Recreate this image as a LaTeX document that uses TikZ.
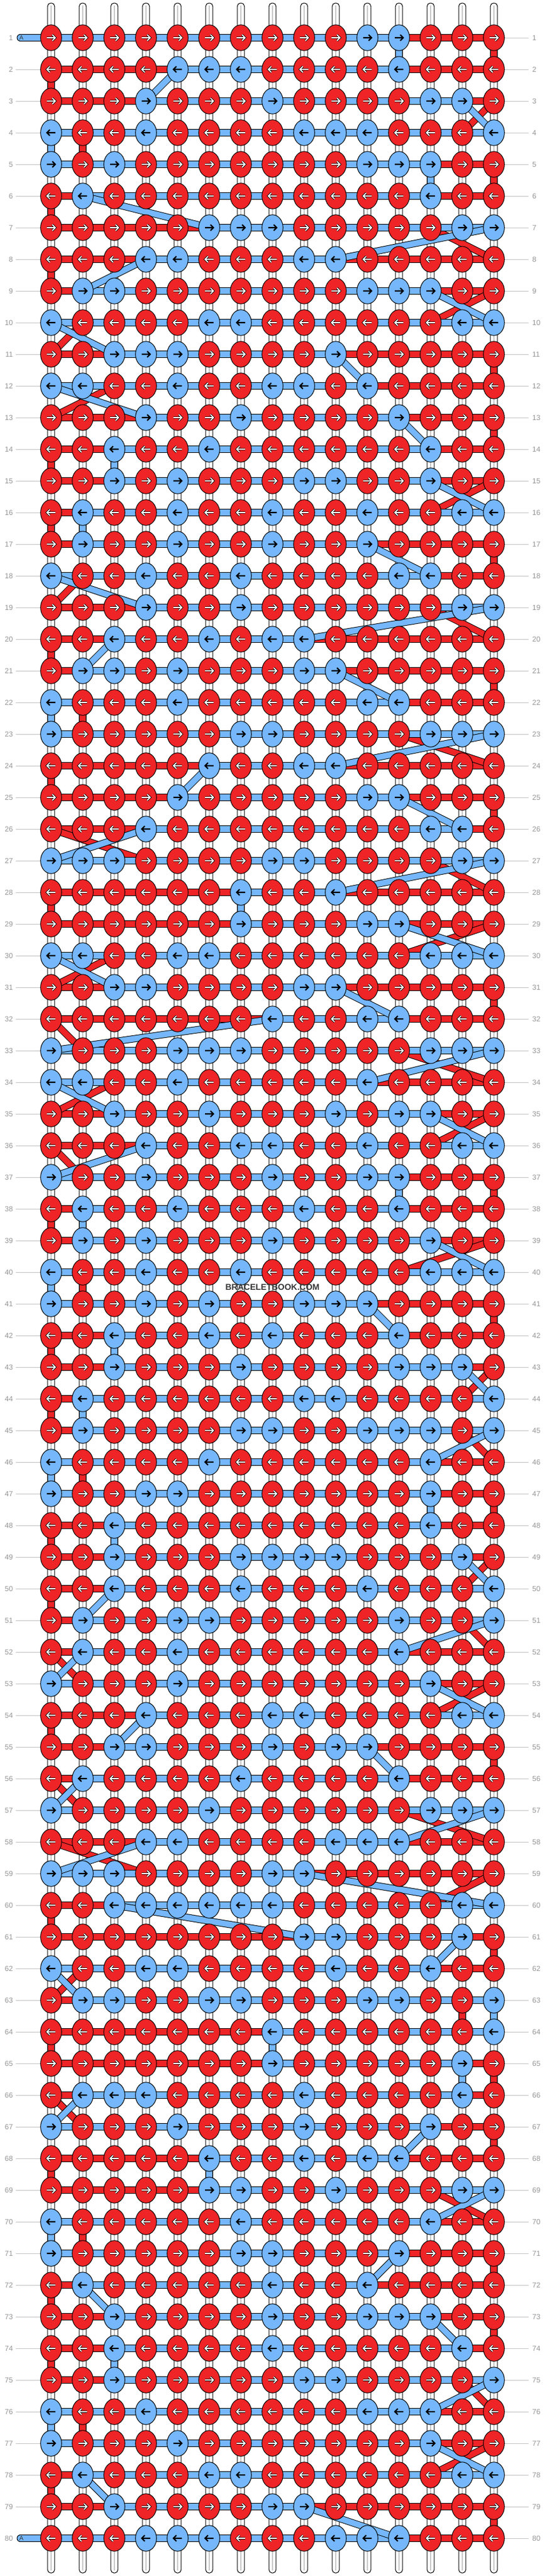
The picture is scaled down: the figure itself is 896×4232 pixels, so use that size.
\documentclass[tikz,border=0pt]{standalone}
\usepackage{fontspec}
\setmainfont{Liberation Sans}
\usetikzlibrary{shapes.geometric}
\definecolor{kred}{RGB}{238,36,38}
\definecolor{kblue}{RGB}{117,183,250}
\definecolor{numgray}{RGB}{150,150,150}
\definecolor{guidegray}{RGB}{195,195,195}
\definecolor{warpgray}{RGB}{200,200,200}
\definecolor{wmgray}{RGB}{55,55,55}
\newcount\colc
\def\scanrow#1{%
  \ifx#1\relax\else
    \global\advance\colc by 1
    \expandafter\xdef\csname kc-\currow-\the\colc\endcsname{#1}%
    \if#1B%
      \ifnum\tmpminb=99 \xdef\tmpminb{\the\colc}\fi
      \xdef\tmpmaxb{\the\colc}%
    \else
      \ifnum\tmpminr=99 \xdef\tmpminr{\the\colc}\fi
      \xdef\tmpmaxr{\the\colc}%
    \fi
    \expandafter\scanrow
  \fi}
\tikzset{
  bandout/.style={line width=11.6pt, draw=black},
  bandin/.style={line width=9.6pt},
  knotbox/.style={ellipse, draw=black, line width=1pt, minimum width=34.6pt, minimum height=42.4pt, inner sep=0pt},
  warp/.style={draw=black, fill=white, line width=1pt, rounded corners=5.3pt},
  warpline/.style={draw=warpgray, line width=1.2pt},
  guide/.style={draw=guidegray, line width=1pt},
  numlbl/.style={inner sep=0pt, text=numgray, font=\fontsize{12}{12}\selectfont},
  arrout/.style={draw=black, line width=3.4pt, miter limit=4},
  arrwhite/.style={draw=white, line width=1.8pt, miter limit=4},
  arrblack/.style={draw=black, line width=2.1pt, miter limit=4},
}
\newcommand\bandln[3]{\draw[bandout] (#2) -- (#3); \draw[bandin, draw=#1] (#2) -- (#3);}
\newcommand\arrowR[2]{\draw[#2] (#1) ++(-7,0) -- ++(13.6,0) (#1) ++(2,-4.9) -- ++(4.9,4.9) -- ++(-4.9,4.9);}
\newcommand\arrowL[2]{\draw[#2] (#1) ++(7,0) -- ++(-13.6,0) (#1) ++(-2,-4.9) -- ++(-4.9,4.9) -- ++(4.9,4.9);}
\begin{document}
\begin{tikzpicture}[x=1pt,y=-1pt]
\useasboundingbox (0,0) rectangle (896,4232);
\fill[white] (0,0) rectangle (896,4232);
\foreach \r/\s in {
1/RRRRRRRRRRBBRRR,
2/RRRRBBBRRRRBRRR,
3/RRRBRRRBRRRRBBR,
4/BRRBRRRRBBBRRRB,
5/BRBRRRRRRRBBBRR,
6/RBRRRRRRRRRRBRR,
7/RRRRRBBBRRRRRBB,
8/RRRBBRRRBBRRRRR,
9/RBBRRRRRRRBBBRR,
10/BRRRRBBRRRRRRBB,
11/RRBBBRRRRBRRRRR,
12/BBRRBRRBBRBRRRR,
13/RRRBRRBRRRRBRRR,
14/RRBRRBRRRRRRBRR,
15/RRBRBRRRBBRRBRR,
16/RBRRBRRBRRBRRBB,
17/RBRRBRRBRRBRRRR,
18/BRRBRRBRRRRBBRR,
19/RRRBRRBRRRRRRBB,
20/RRBRRBRBBRRRRRR,
21/RBBRBRRRBBRRRRR,
22/BRRRBRRRRRBBRRR,
23/BRRRRRBBRRRRBBB,
24/RRRRRBRRBBRRRRR,
25/RRRRBRRRRRBBRRR,
26/RRRBRRRRRRRRBBR,
27/BBBRRRRBBRRRRBB,
28/RRRRRRBRRBRRRRR,
29/RRRRRRBRRRBBRRR,
30/BBRRBBRRRRRRBBB,
31/RRBBRRRRBBRRRRR,
32/RRRRRRRBRRBBRRR,
33/BRRRBBBRRRRRBBB,
34/BBRRBRRRRRBRRRR,
35/RRBRRBRRRBRBBRR,
36/RRRBRRBBRRBRRBB,
37/BRRBRRRBRRBBRRR,
38/RBRRBRRRBRRBRRR,
39/RBRBRRRBRRRRBRR,
40/BRRBRRBRRRRRBBB,
41/BRRBRBRRBBBRRRR,
42/RRBRRBRBRRRBRRR,
43/RRBRRRBRRRRBBBR,
44/RBRRRRRRBBRRRRB,
45/RBRRRRBBRRBBBRB,
46/BRRRRBRRRRRRBRR,
47/BRRBBRRRRRRRBRR,
48/RRBRRRRRRRRRBRR,
49/RRBRRRBBBBRRRBR,
50/RRBRRRBRRRBRRRB,
51/RBRRBBRRRRRBRRB,
52/RBRRBRRRRRRBRRR,
53/BRRRBRRRRRRRBRR,
54/RRRBRRRBBRRRRBB,
55/RRBBRRRBRBBRRRR,
56/RBRRRRBRRRRBRRR,
57/BRRRRBRRRRRRBBB,
58/RRRBBRRRRBBBRRR,
59/BBBRRRRBBRRRRRR,
60/RRBBBBBBRRRRRBB,
61/RRRRRRRRBBRRRBR,
62/BRRBBRRRRBRRBRR,
63/RBBRRBBRRRBBRRB,
64/RRRRRRRBRRRRRRB,
65/RRRRRRRBRRRRRBR,
66/RBBBRRRRBRRRRBR,
67/BRRRBRRRBRRRBRR,
68/RRRRRBRRBRBBRRR,
69/RRRRRBBRRBRRRBB,
70/BRRRRRBRRRRRBRR,
71/BRRRRRBBRRRBRRR,
72/RBRRRRRBRRBRRRR,
73/RRBRRRRBRRBBBRR,
74/RRBRRRRBRRRRRBR,
75/RRBRRRRRBBRRRRB,
76/BRRBRRRRRRBBBRR,
77/BRRRBRRRRRRRBRR,
78/RBRRRBBRRRRRRBB,
79/RRBRRRRBBRRRRRR,
80/RRRBBBRRRBBBRRR}{%
  \xdef\currow{\r}\global\colc=0
  \xdef\tmpminb{99}\xdef\tmpmaxb{0}\xdef\tmpminr{99}\xdef\tmpmaxr{0}%
  \expandafter\scanrow\s\relax
  \expandafter\xdef\csname mnb-\r\endcsname{\tmpminb}%
  \expandafter\xdef\csname mxb-\r\endcsname{\tmpmaxb}%
  \expandafter\xdef\csname mnr-\r\endcsname{\tmpminr}%
  \expandafter\xdef\csname mxr-\r\endcsname{\tmpmaxr}%
}
\expandafter\xdef\csname mnb-1\endcsname{1}
\expandafter\xdef\csname mnb-80\endcsname{1}
% positions
\foreach \r in {1,...,80}{\foreach \c in {1,...,15}{\coordinate (p-\r-\c) at ({32+52*\c},{10+52*\r});}}
% warp strings
\foreach \c in {1,...,15}{
  \draw[warp] ({26.2+52*\c},5) rectangle ({37.8+52*\c},4227);
  \draw[warpline] ({32+52*\c},9) -- ({32+52*\c},4223);
}
% row numbers and guide lines
\foreach \r in {1,...,80}{
  \node[numlbl, anchor=east] (ln-\r) at (21.5,{10+52*\r}) {\r};
  \node[numlbl, anchor=west] (rn-\r) at (875,{10+52*\r}) {\r};
  \coordinate (rg-\r) at (869,{10+52*\r});
  \draw[guide] (p-\r-15) -- (rg-\r);
  \ifnum\r>1 \ifnum\r<80
    \coordinate (lg-\r) at (26,{10+52*\r});
    \draw[guide] (lg-\r) -- (p-\r-1);
  \fi\fi
}
% red string
\foreach \r in {1,...,80}{
  \edef\spA{\csname mnr-\r\endcsname}\edef\spB{\csname mxr-\r\endcsname}%
  \ifnum\spA<\spB\relax \bandln{kred}{p-\r-\spA}{p-\r-\spB}\fi
}
\foreach \r in {1,...,79}{
  \pgfmathtruncatemacro\rn{\r+1}%
  \ifodd\r\relax
    \edef\spA{\csname mxr-\r\endcsname}\edef\spB{\csname mxr-\rn\endcsname}%
  \else
    \edef\spA{\csname mnr-\r\endcsname}\edef\spB{\csname mnr-\rn\endcsname}%
  \fi
  \bandln{kred}{p-\r-\spA}{p-\rn-\spB}
}
% blue string
\coordinate (a-in) at (33.3,62);
\coordinate (a-out) at (33.3,4170);
\draw[bandout, line cap=round] (a-in) -- (p-1-1);
\draw[bandin, draw=kblue, line cap=round] (a-in) -- (p-1-1);
\draw[bandout, line cap=round] (a-out) -- (p-80-1);
\draw[bandin, draw=kblue, line cap=round] (a-out) -- (p-80-1);
\foreach \r in {1,...,80}{
  \edef\spA{\csname mnb-\r\endcsname}\edef\spB{\csname mxb-\r\endcsname}%
  \ifnum\spA<\spB\relax \bandln{kblue}{p-\r-\spA}{p-\r-\spB}\fi
}
\foreach \r in {1,...,79}{
  \pgfmathtruncatemacro\rn{\r+1}%
  \ifodd\r\relax
    \edef\spA{\csname mxb-\r\endcsname}\edef\spB{\csname mxb-\rn\endcsname}%
  \else
    \edef\spA{\csname mnb-\r\endcsname}\edef\spB{\csname mnb-\rn\endcsname}%
  \fi
  \bandln{kblue}{p-\r-\spA}{p-\rn-\spB}
}
\node[inner sep=0pt, font=\fontsize{10}{10}\selectfont, text=black!80] (alab-1) at (35.2,62.5) {A};
\node[inner sep=0pt, font=\fontsize{10}{10}\selectfont, text=black!80] (alab-80) at (35.2,4170.5) {A};
% knots
\foreach \r in {1,...,80}{
  \foreach \c in {1,...,15}{
    \edef\kc{\csname kc-\r-\c\endcsname}%
    \if B\kc
      \node[knotbox, fill=kblue] (k-\r-\c) at (p-\r-\c) {};
      \ifodd\r\relax \arrowR{k-\r-\c.center}{arrblack}\else \arrowL{k-\r-\c.center}{arrblack}\fi
    \else
      \node[knotbox, fill=kred] (k-\r-\c) at (p-\r-\c) {};
      \ifodd\r\relax
        \arrowR{k-\r-\c.center}{arrout}\arrowR{k-\r-\c.center}{arrwhite}%
      \else
        \arrowL{k-\r-\c.center}{arrout}\arrowL{k-\r-\c.center}{arrwhite}%
      \fi
    \fi
  }
}
\node[inner sep=0pt, text=wmgray, font=\bfseries\fontsize{14}{14}\selectfont] (wm) at (448,2115) {BRACELETBOOK.COM};
\end{tikzpicture}
\end{document}
